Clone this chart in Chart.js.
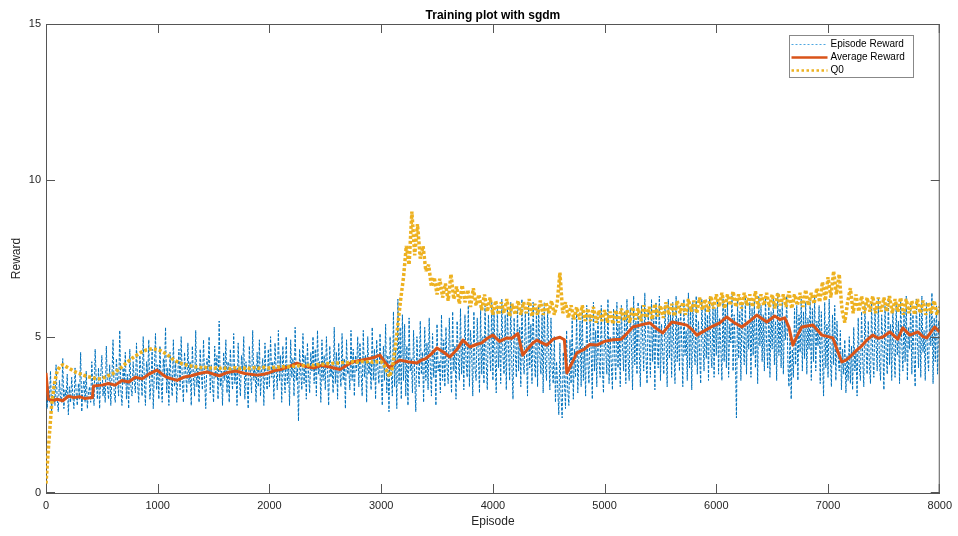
<!DOCTYPE html>
<html>
<head>
<meta charset="utf-8">
<script src="https://cdn.jsdelivr.net/npm/chart.js@4.4.1/dist/chart.umd.min.js"></script>
<style>
  html, body { margin: 0; padding: 0; background: #fff; }
  #wrap { width: 958px; height: 536px; }
</style>
</head>
<body>
<div id="wrap"><canvas id="trainChart" width="958" height="536"></canvas></div>
<script>
// --- data ---
const chartTitle = 'Training plot with sgdm';
const xTickValues = [0, 1000, 2000, 3000, 4000, 5000, 6000, 7000, 8000];
const yTickValues = [0, 5, 10, 15];

// episode reward, one value every 10 episodes (one row = 400 episodes)
const rewardStep = 10;
const episodeReward = [
  3.8, 2.7, 3.4, 2.9, 3.9, 2.6, 3.2, 3.5, 2.8, 4.1, 3.0, 2.6, 3.6, 3.1, 2.9, 4.3, 2.7, 3.3, 3.0, 3.8, 2.5, 3.4, 2.9, 3.7, 3.1, 2.7, 4.0, 3.2, 2.8, 3.5, 3.0, 4.5, 2.6, 3.3, 3.6, 2.9, 3.9, 2.7, 3.2, 3.4,
  2.9, 4.2, 3.3, 2.8, 4.6, 3.6, 3.0, 4.0, 2.7, 3.8, 4.4, 3.1, 3.5, 2.9, 4.7, 3.4, 3.0, 4.1, 2.8, 3.7, 4.9, 3.2, 2.9, 4.3, 3.6, 3.1, 5.2, 3.3, 2.8, 4.0, 3.5, 4.5, 3.0, 3.8, 2.7, 4.6, 3.4, 3.1, 4.2, 3.6,
  3.2, 4.8, 3.5, 2.9, 4.4, 3.9, 3.1, 5.0, 3.6, 2.8, 4.2, 3.7, 4.9, 3.0, 3.5, 4.6, 2.7, 3.9, 5.1, 3.3, 4.1, 3.0, 4.7, 3.6, 2.9, 4.3, 3.8, 5.3, 3.2, 4.0, 2.8, 4.5, 3.6, 3.1, 4.9, 3.4, 4.2, 2.9, 3.8, 4.6,
  3.3, 5.0, 3.6, 2.9, 4.5, 3.9, 3.2, 4.8, 3.5, 4.2, 2.8, 4.7, 3.7, 3.1, 5.2, 3.4, 4.0, 2.9, 4.6, 3.8, 3.3, 4.9, 3.6, 2.7, 4.3, 3.9, 5.0, 3.2, 4.1, 3.5, 2.9, 4.7, 3.7, 4.4, 3.0, 5.5, 3.4, 3.9, 2.8, 4.5,
  3.6, 4.9, 3.2, 4.2, 2.9, 4.6, 3.8, 3.3, 5.1, 3.5, 4.0, 2.8, 4.8, 3.7, 3.1, 4.4, 3.9, 5.0, 3.0, 4.2, 3.5, 2.7, 4.7, 3.8, 3.2, 5.2, 3.6, 4.1, 2.9, 4.5, 3.4, 4.9, 3.1, 3.9, 4.3, 2.8, 4.8, 3.6, 3.3, 4.6,
  3.4, 5.0, 3.7, 4.2, 3.0, 4.8, 3.9, 3.3, 5.2, 3.6, 4.4, 2.9, 4.7, 3.8, 3.2, 5.0, 3.5, 4.1, 2.8, 4.9, 3.7, 4.3, 3.1, 5.3, 3.6, 4.0, 2.3, 4.6, 3.9, 3.3, 5.1, 3.5, 4.4, 3.0, 4.8, 3.8, 3.2, 4.5, 3.9, 5.0,
  3.5, 4.6, 3.1, 5.2, 3.8, 4.2, 2.9, 4.9, 3.6, 4.4, 3.3, 5.0, 3.9, 2.8, 4.7, 3.7, 4.1, 3.2, 5.3, 3.5, 4.5, 3.0, 4.8, 3.9, 3.4, 5.1, 3.6, 4.3, 2.7, 4.9, 3.8, 4.0, 3.3, 5.2, 3.6, 4.6, 3.1, 4.4, 3.9, 5.0,
  3.4, 4.8, 3.9, 3.1, 5.2, 3.7, 4.4, 2.9, 5.0, 3.8, 4.2, 3.3, 5.3, 3.6, 4.6, 3.0, 4.9, 4.0, 3.5, 5.1, 3.8, 2.8, 4.7, 3.6, 5.4, 3.2, 4.4, 2.6, 5.0, 3.9, 3.1, 5.8, 3.4, 4.6, 2.7, 6.2, 3.5, 5.3, 3.0, 5.7,
  3.6, 5.4, 3.1, 4.7, 2.8, 5.6, 3.9, 4.3, 3.2, 5.2, 3.7, 2.6, 5.0, 4.1, 3.4, 5.5, 3.8, 4.5, 2.9, 5.3, 3.6, 4.8, 3.3, 5.6, 4.0, 3.1, 5.1, 3.7, 4.6, 2.8, 5.4, 3.9, 4.2, 3.2, 5.7, 3.6, 4.9, 3.4, 5.3, 4.0,
  3.5, 5.6, 4.1, 3.2, 5.8, 3.9, 4.7, 3.0, 5.5, 4.3, 3.6, 5.9, 3.8, 4.9, 3.3, 5.7, 4.2, 3.7, 6.0, 3.4, 5.2, 4.5, 3.1, 5.8, 4.0, 3.6, 5.6, 4.4, 3.2, 5.9, 3.8, 5.0, 3.5, 6.0, 4.2, 3.3, 5.7, 4.6, 3.9, 6.1,
  3.6, 5.8, 4.3, 3.2, 6.0, 4.0, 5.1, 3.5, 6.2, 4.4, 3.8, 5.7, 3.3, 5.9, 4.6, 3.6, 6.1, 4.1, 3.0, 5.6, 4.5, 3.7, 6.0, 3.9, 5.3, 3.4, 6.2, 4.2, 3.8, 5.8, 4.6, 3.1, 6.0, 4.0, 5.4, 3.5, 6.1, 4.3, 3.7, 5.9,
  3.4, 6.0, 4.4, 3.8, 5.7, 3.2, 6.1, 4.1, 3.6, 5.9, 4.5, 3.3, 5.6, 4.0, 3.5, 5.0, 2.9, 4.2, 3.4, 2.5, 4.8, 3.1, 2.4, 4.5, 3.6, 2.7, 5.2, 3.3, 2.8, 4.9, 3.5, 5.6, 3.0, 4.6, 3.7, 5.8, 3.2, 4.4, 5.5, 3.4,
  5.9, 3.6, 4.7, 3.1, 6.0, 4.2, 3.5, 5.7, 4.5, 3.0, 6.1, 3.9, 5.2, 3.4, 5.8, 4.3, 3.7, 6.0, 4.0, 3.2, 5.6, 4.6, 3.8, 6.2, 3.5, 5.0, 4.1, 3.3, 5.9, 4.4, 3.6, 6.1, 4.0, 5.4, 3.4, 6.0, 4.7, 3.9, 5.8, 3.5,
  6.2, 4.3, 3.6, 5.9, 4.8, 3.3, 6.3, 4.1, 5.5, 3.8, 6.1, 4.6, 3.4, 6.0, 5.0, 3.9, 6.4, 4.4, 3.5, 5.8, 4.9, 3.7, 6.2, 4.2, 5.6, 3.3, 6.1, 4.7, 4.0, 6.3, 3.6, 5.4, 4.5, 3.8, 6.0, 4.9, 3.4, 6.2, 4.3, 5.7,
  3.7, 6.1, 4.6, 3.5, 6.3, 4.2, 5.6, 3.9, 6.0, 4.8, 3.4, 6.2, 4.4, 5.2, 3.6, 6.4, 4.0, 5.8, 3.3, 6.1, 4.7, 4.1, 6.3, 3.8, 5.5, 4.5, 3.5, 6.2, 4.9, 3.9, 6.0, 4.3, 5.7, 3.6, 6.3, 4.6, 4.0, 6.1, 3.7, 5.9,
  4.4, 6.2, 3.8, 5.6, 4.7, 3.6, 6.3, 4.2, 5.9, 4.0, 6.1, 3.7, 5.4, 4.8, 6.4, 3.9, 5.7, 4.5, 2.4, 6.2, 4.3, 5.8, 3.6, 6.0, 4.9, 4.1, 6.3, 3.8, 5.5, 4.6, 6.1, 3.7, 5.9, 4.4, 6.2, 4.0, 5.6, 3.5, 6.3, 4.7,
  6.0, 4.2, 5.7, 3.9, 6.3, 4.8, 4.0, 6.1, 3.7, 5.8, 4.6, 6.2, 4.1, 5.5, 3.6, 6.4, 4.4, 5.9, 4.0, 6.1, 3.8, 5.6, 4.9, 6.3, 4.2, 3.4, 5.2, 3.0, 4.6, 3.7, 5.9, 4.1, 6.0, 3.6, 5.7, 4.5, 6.2, 3.9, 5.8, 4.3,
  6.1, 3.8, 5.6, 4.6, 6.2, 3.6, 5.9, 4.2, 6.3, 3.9, 5.5, 4.7, 6.0, 3.5, 5.8, 4.3, 3.1, 6.1, 4.0, 5.4, 3.7, 6.2, 4.5, 3.4, 5.7, 4.1, 6.0, 3.6, 5.5, 4.4, 3.9, 5.2, 3.3, 4.6, 3.8, 4.9, 3.2, 4.4, 3.6, 5.0,
  3.5, 4.7, 3.3, 5.3, 3.9, 4.5, 3.1, 5.6, 4.0, 3.6, 5.8, 4.3, 3.4, 6.0, 4.6, 3.8, 5.5, 4.1, 3.5, 6.1, 4.4, 3.7, 5.9, 4.8, 3.9, 6.2, 4.2, 3.6, 5.7, 4.7, 3.3, 6.0, 4.5, 3.8, 6.3, 4.1, 5.4, 3.6, 5.9, 4.6,
  3.7, 6.1, 4.4, 5.5, 3.5, 6.2, 4.8, 3.9, 5.8, 4.2, 6.3, 3.6, 5.3, 4.6, 6.0, 3.8, 5.7, 4.3, 3.4, 6.2, 4.9, 4.0, 5.9, 3.7, 6.3, 4.5, 5.2, 3.6, 6.1, 4.4, 3.9, 5.8, 4.7, 6.4, 3.5, 5.6, 4.2, 6.0, 3.8, 5.5,
  5.2
];

// average reward (episodes where it was read, and its value there)
const avgEpisodes = [
  0, 20, 60, 100, 150, 200, 250, 300, 350, 400, 415, 425, 500, 560, 620, 680, 740, 800, 860, 920,
  993, 1040, 1080, 1130, 1172, 1230, 1300, 1370, 1441, 1500, 1550, 1620, 1700, 1780, 1888, 1950,
  2000, 2050, 2100, 2180, 2246, 2320, 2400, 2470, 2541, 2631, 2700, 2750, 2820, 2899, 2950, 2989,
  3030, 3078, 3120, 3168, 3240, 3320, 3360, 3400, 3450, 3499, 3560, 3615, 3680, 3732, 3794, 3850,
  3900, 3950, 4000, 4060, 4125, 4170, 4224, 4268, 4310, 4358, 4394, 4440, 4483, 4540, 4600, 4640,
  4662, 4700, 4752, 4820, 4868, 4931, 5000, 5074, 5150, 5200, 5253, 5330, 5405, 5468, 5521, 5602,
  5670, 5736, 5790, 5826, 5900, 5969, 6031, 6094, 6160, 6228, 6300, 6362, 6452, 6523, 6570, 6613,
  6650, 6685, 6720, 6765, 6864, 6944, 7000, 7043, 7080, 7123, 7160, 7195, 7257, 7300, 7347, 7400,
  7450, 7490, 7553, 7624, 7669, 7732, 7803, 7850, 7884, 7955, 8000
];
const avgReward = [
  3.84, 3.0, 2.95, 3.0, 2.95, 3.1, 3.05, 3.08, 3.02, 3.05, 3.05, 3.42, 3.45, 3.5, 3.45, 3.6, 3.55, 3.7, 3.65, 3.8,
  3.93, 3.8, 3.7, 3.65, 3.6, 3.7, 3.75, 3.82, 3.87, 3.8, 3.75, 3.85, 3.9, 3.82, 3.77, 3.8,
  3.85, 3.92, 3.95, 4.05, 4.15, 4.05, 4.0, 4.08, 4.03, 3.95, 4.1, 4.2, 4.25, 4.3, 4.35, 4.41,
  4.2, 4.0, 4.15, 4.25, 4.2, 4.16, 4.25, 4.3, 4.45, 4.64, 4.5, 4.35, 4.6, 4.89, 4.67, 4.75,
  4.8, 4.95, 5.05, 4.85, 4.96, 4.95, 5.1, 4.41, 4.6, 4.8, 4.89, 4.8, 4.73, 4.92, 4.98, 4.9,
  3.84, 4.1, 4.48, 4.6, 4.75, 4.73, 4.85, 4.9, 4.92, 5.1, 5.31, 5.38, 5.44, 5.25, 5.12, 5.47,
  5.42, 5.37, 5.2, 5.05, 5.2, 5.34, 5.44, 5.63, 5.45, 5.31, 5.5, 5.69, 5.47, 5.66, 5.55, 5.6,
  5.3, 4.73, 5.0, 5.31, 5.37, 5.05, 5.0, 4.96, 4.6, 4.19, 4.25, 4.35, 4.57, 4.7, 4.89, 5.05,
  4.95, 4.99, 5.15, 4.92, 5.28, 5.05, 5.15, 5.0, 4.96, 5.31, 5.15
];

// Q0, one value every 25 episodes (one row = 500 episodes)
const q0Step = 25;
const q0Values = [
  0.3, 1.6, 2.8, 3.5, 3.9, 4.05, 4.1, 4.05, 4.0, 3.95, 3.9, 3.85, 3.82, 3.78, 3.75, 3.72, 3.7, 3.68, 3.66, 3.65,
  3.66, 3.7, 3.74, 3.78, 3.82, 3.88, 3.95, 4.02, 4.1, 4.18, 4.25, 4.32, 4.38, 4.44, 4.5, 4.54, 4.58, 4.6, 4.62, 4.6,
  4.58, 4.55, 4.5, 4.45, 4.38, 4.3, 4.25, 4.2, 4.16, 4.12, 4.1, 4.08, 4.06, 4.05, 4.03, 4.02, 4.0, 4.02, 3.98, 4.0,
  3.99, 4.0, 3.98, 4.01, 3.99, 4.0, 3.97, 4.0, 4.01, 3.98, 4.0, 3.99, 4.02, 3.98, 4.0, 4.01, 3.99, 4.0, 4.02, 4.0,
  4.0, 4.02, 4.01, 4.03, 4.02, 4.04, 4.05, 4.04, 4.06, 4.05, 4.07, 4.06, 4.08, 4.07, 4.09, 4.1, 4.08, 4.11, 4.1, 4.12,
  4.12, 4.14, 4.13, 4.15, 4.16, 4.15, 4.17, 4.18, 4.17, 4.19, 4.2, 4.18, 4.2, 4.21, 4.19, 4.2, 4.22, 4.18, 4.2, 4.19,
  4.2, 4.1, 3.9, 3.72, 4.0, 4.6, 5.4, 6.2, 6.9, 7.9, 7.3, 9.0, 7.6, 8.6, 7.5, 7.9, 7.1, 7.3, 6.6, 6.9,
  6.35, 6.85, 6.25, 6.7, 6.15, 7.0, 6.2, 6.6, 6.05, 6.65, 6.1, 6.5, 5.95, 6.55, 6.0, 6.35, 5.85, 6.35, 5.8, 6.25,
  5.7, 6.15, 5.7, 6.1, 5.75, 6.2, 5.65, 6.05, 5.7, 6.15, 5.7, 6.1, 5.75, 6.2, 5.65, 6.05, 5.7, 6.15, 5.7, 6.1,
  5.75, 6.15, 5.7, 6.05, 7.05, 5.75, 6.1, 5.6, 6.0, 5.55, 5.95, 5.55, 6.0, 5.5, 5.9, 5.5, 5.95, 5.45, 5.85, 5.5,
  5.85, 5.45, 5.8, 5.4, 5.85, 5.45, 5.9, 5.5, 5.85, 5.45, 5.95, 5.55, 5.9, 5.5, 6.0, 5.6, 5.95, 5.55, 6.05, 5.65,
  6.0, 5.6, 6.1, 5.7, 6.05, 5.65, 6.15, 5.75, 6.1, 5.7, 6.2, 5.8, 6.15, 5.75, 6.25, 5.85, 6.2, 5.8, 6.3, 5.9,
  6.35, 5.95, 6.4, 5.9, 6.35, 6.0, 6.45, 5.95, 6.35, 5.9, 6.4, 6.0, 6.35, 5.95, 6.45, 5.9, 6.35, 6.0, 6.4, 5.95,
  6.35, 5.9, 6.4, 6.0, 6.35, 5.95, 6.45, 5.9, 6.35, 6.0, 6.4, 5.95, 6.5, 6.0, 6.4, 6.05, 6.55, 6.1, 6.75, 6.15,
  6.9, 6.25, 7.1, 6.35, 7.0, 5.85, 5.45, 6.1, 6.55, 5.75, 6.35, 5.8, 6.3, 5.75, 6.25, 5.8, 6.3, 5.75, 6.25, 5.8,
  6.25, 5.8, 6.3, 5.75, 6.2, 5.8, 6.25, 5.7, 6.2, 5.75, 6.15, 5.7, 6.2, 5.75, 6.15, 5.7, 6.1, 5.75, 6.15, 5.7,
  5.95
];

const seriesNames = ['Episode Reward', 'Average Reward', 'Q0'];
const seriesColors = ['#0072BD', '#D95319', '#EDB120'];

const axisColor = '#555555';
const fontFamily = "'Liberation Sans', Arial, Helvetica, sans-serif";

// build points for the library
const rewardPoints = episodeReward.map((v, i) => ({ x: i * rewardStep, y: v }));
const avgPoints = avgReward.map((v, i) => ({ x: avgEpisodes[i], y: v }));
const q0Points = q0Values.map((v, i) => ({ x: i * q0Step, y: v }));

// box, inward ticks, titles and legend in MATLAB style
const matlabFrame = {
    id: 'matlabFrame',
    afterDraw(chart) {
        const { ctx, chartArea: a, scales } = chart;
        const tickLen = 9;
        ctx.save();
        ctx.strokeStyle = axisColor;
        ctx.lineWidth = 1;
        ctx.beginPath();
        ctx.moveTo(a.left + 0.5, a.top + 0.5);
        ctx.lineTo(a.right - 0.5, a.top + 0.5);
        ctx.lineTo(a.right - 0.5, a.bottom);
        xTickValues.forEach(v => {
            let px = Math.round(scales.x.getPixelForValue(v)) + 0.5;
            px = Math.min(Math.max(px, a.left + 0.5), a.right - 0.5);
            ctx.moveTo(px, a.bottom);
            ctx.lineTo(px, a.bottom - tickLen);
            ctx.moveTo(px, a.top);
            ctx.lineTo(px, a.top + tickLen);
        });
        yTickValues.forEach(v => {
            let py = Math.round(scales.y.getPixelForValue(v)) + 0.5;
            py = Math.min(Math.max(py, a.top + 0.5), a.bottom - 0.5);
            ctx.moveTo(a.left, py);
            ctx.lineTo(a.left + tickLen, py);
            ctx.moveTo(a.right, py);
            ctx.lineTo(a.right - tickLen, py);
        });
        ctx.stroke();

        // titles
        ctx.fillStyle = '#000';
        ctx.textAlign = 'center';
        ctx.textBaseline = 'middle';
        ctx.font = 'bold 12px ' + fontFamily;
        ctx.fillText(chartTitle, (a.left + a.right) / 2, 16);
        ctx.fillStyle = '#262626';
        ctx.font = '12px ' + fontFamily;
        ctx.fillText('Episode', (a.left + a.right) / 2, 522);
        ctx.save();
        ctx.translate(17, (a.top + a.bottom) / 2);
        ctx.rotate(-Math.PI / 2);
        ctx.fillText('Reward', 0, 0);
        ctx.restore();

        // legend
        const lx = 789.5, ly = 35.5, lw = 124, lh = 42;
        ctx.fillStyle = '#fff';
        ctx.fillRect(lx, ly, lw, lh);
        ctx.strokeStyle = '#888';
        ctx.lineWidth = 1;
        ctx.strokeRect(lx, ly, lw, lh);
        const styles = [
            { w: 1, dash: [2, 2], color: '#4da6e0' },
            { w: 2.5, dash: [], color: seriesColors[1] },
            { w: 2.5, dash: [2.5, 2.5], color: seriesColors[2] }
        ];
        ctx.font = '10px ' + fontFamily;
        ctx.textAlign = 'left';
        seriesNames.forEach((name, i) => {
            const y = ly + 9 + i * 13;
            ctx.beginPath();
            ctx.strokeStyle = styles[i].color;
            ctx.lineWidth = styles[i].w;
            ctx.setLineDash(styles[i].dash);
            ctx.moveTo(lx + 2, y);
            ctx.lineTo(lx + 38, y);
            ctx.stroke();
            ctx.setLineDash([]);
            ctx.fillStyle = '#000';
            ctx.fillText(name, lx + 41, y);
        });
        ctx.restore();
    }
};

const ctx = document.getElementById('trainChart').getContext('2d');
new Chart(ctx, {
    type: 'line',
    data: {
        datasets: [
            {
                label: seriesNames[0],
                data: rewardPoints,
                borderColor: seriesColors[0],
                borderWidth: 1,
                borderDash: [3, 1.5],
                borderJoinStyle: 'bevel',
                pointRadius: 0,
                order: 3
            },
            {
                label: seriesNames[1],
                data: avgPoints,
                borderColor: seriesColors[1],
                borderWidth: 3,
                borderJoinStyle: 'round',
                pointRadius: 0,
                order: 2
            },
            {
                label: seriesNames[2],
                data: q0Points,
                borderColor: seriesColors[2],
                borderWidth: 3.5,
                borderDash: [3, 2],
                borderCapStyle: 'butt',
                borderJoinStyle: 'bevel',
                pointRadius: 0,
                order: 1
            }
        ]
    },
    options: {
        responsive: false,
        animation: false,
        devicePixelRatio: 1,
        layout: { padding: { top: 24, right: 18, left: 0, bottom: 0 } },
        plugins: {
            legend: { display: false },
            tooltip: { enabled: false },
            title: { display: false }
        },
        scales: {
            x: {
                type: 'linear',
                min: 0,
                max: 8000,
                afterBuildTicks: axis => { axis.ticks = xTickValues.map(v => ({ value: v })); },
                afterFit: s => { s.height = 43; },
                ticks: {
                    color: '#262626',
                    font: { size: 11, family: fontFamily },
                    padding: 6,
                    maxRotation: 0,
                    callback: v => String(v)
                },
                grid: { display: false, drawTicks: false },
                border: { display: true, color: axisColor, width: 1 }
            },
            y: {
                min: 0,
                max: 15,
                afterBuildTicks: axis => { axis.ticks = yTickValues.map(v => ({ value: v })); },
                afterFit: s => { s.width = 46; },
                ticks: {
                    color: '#262626',
                    font: { size: 11, family: fontFamily },
                    padding: 5,
                    callback: v => String(v)
                },
                grid: { display: false, drawTicks: false },
                border: { display: true, color: axisColor, width: 1 }
            }
        }
    },
    plugins: [matlabFrame]
});
</script>
</body>
</html>
